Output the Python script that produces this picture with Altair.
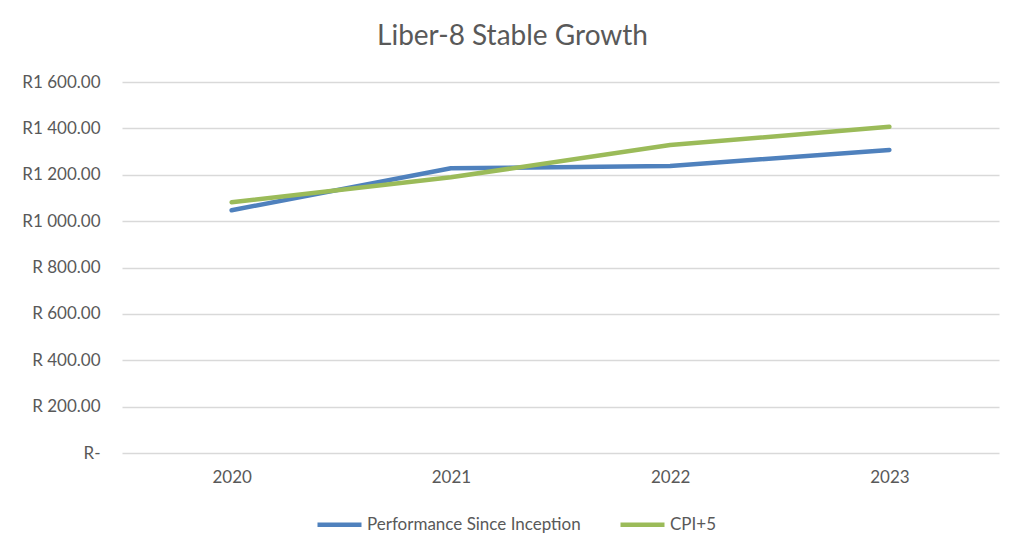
import altair as alt
import pandas as pd

years = ["2020", "2021", "2022", "2023"]
performance = [1047, 1228, 1238, 1307]
cpi_plus5 = [1081, 1189, 1328, 1407]
series_names = ["Performance Since Inception", "CPI+5"]
colors = ["#4F81BD", "#9BBB59"]

rows = []
for y, p, c in zip(years, performance, cpi_plus5):
    rows.append({"year": y, "value": p, "series": series_names[0]})
    rows.append({"year": y, "value": c, "series": series_names[1]})
df = pd.DataFrame(rows)

font = "Lato"
grey = "#595959"

chart = alt.Chart(df).mark_line(strokeWidth=4.5, strokeCap="round", strokeJoin="round").encode(
    x=alt.X("year:N", title=None, sort=years,
            scale=alt.Scale(paddingInner=0, paddingOuter=0.5),
            axis=alt.Axis(labelAngle=0, domain=False, ticks=False, grid=False,
                          labelFont=font, labelFontSize=17, labelColor=grey, labelPadding=16)),
    y=alt.Y("value:Q", title=None, scale=alt.Scale(domain=[0, 1600], nice=False),
            axis=alt.Axis(values=[0, 200, 400, 600, 800, 1000, 1200, 1400, 1600],
                          labelExpr="datum.value == 0 ? 'R-' : (datum.value >= 1000 ? 'R' + replace(format(datum.value, ',.2f'), ',', ' ') : 'R ' + format(datum.value, '.2f'))",
                          domain=False, ticks=False, gridColor="#D9D9D9", gridWidth=1.3,
                          labelFont=font, labelFontSize=17, labelColor=grey, labelPadding=22)),
    color=alt.Color("series:N", sort=series_names,
                    scale=alt.Scale(domain=series_names, range=colors),
                    legend=alt.Legend(title=None, orient="none", direction="horizontal",
                                      legendX=193, legendY=418,
                                      symbolType="stroke", symbolSize=1936, symbolStrokeWidth=4.5,
                                      labelFont=font, labelFontSize=17, labelColor=grey, labelLimit=0,
                                      labelOffset=3, columnPadding=30)),
).properties(
    width=877, height=371,
    title=alt.TitleParams("Liber-8 Stable Growth", font=font, fontSize=28, fontWeight="normal",
                          color=grey, anchor="middle", dx=-48, offset=22),
    autosize=alt.AutoSizeParams(type="none"),
    padding={"left": 114, "top": 74, "right": 17, "bottom": 94},
).configure_view(stroke=None)

chart.save("out.html", embed_options={"renderer": "svg", "actions": False})
